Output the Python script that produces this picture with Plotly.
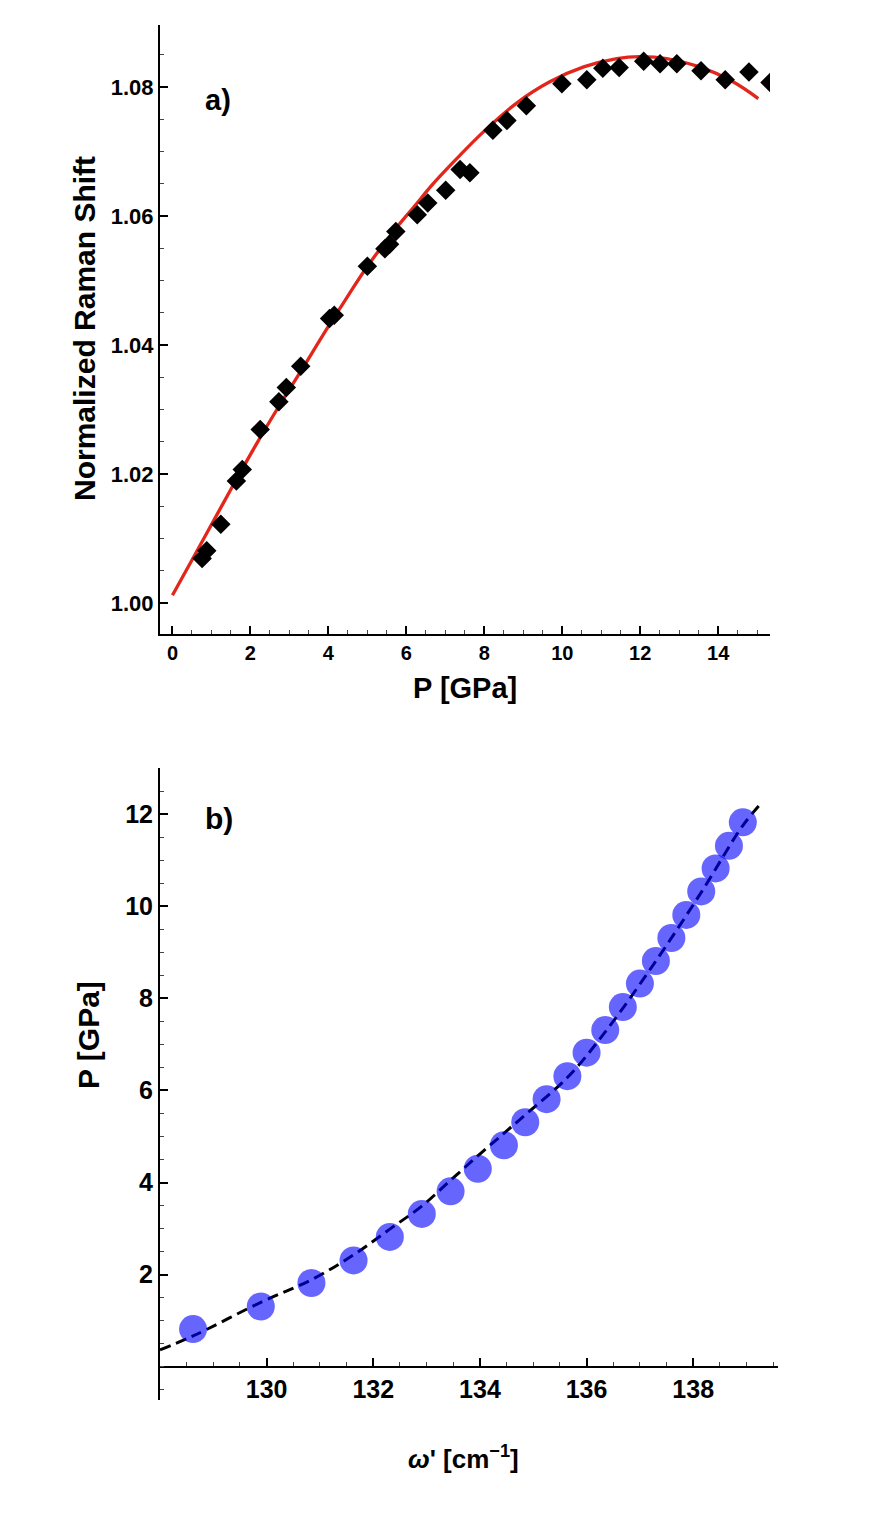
import plotly.graph_objects as go

W, H = 873, 1518
OFF = 8  # page body margin

# panel a) measured points
p_meas = [0.76, 0.88, 1.24, 1.64, 1.79, 2.25, 2.73, 2.92, 3.29, 4.03, 4.15, 5.00, 5.45, 5.57,
          5.73, 6.28, 6.55, 7.01, 7.38, 7.63, 8.22, 8.58, 9.08, 9.99, 10.63, 11.04, 11.46,
          12.09, 12.51, 12.94, 13.56, 14.18, 14.79, 15.33]
shift_meas = [1.0069, 1.0081, 1.0122, 1.0189, 1.0207, 1.0269, 1.0312, 1.0334, 1.0367, 1.0441,
              1.0446, 1.0522, 1.0549, 1.0556, 1.0576, 1.0602, 1.0620, 1.0640, 1.0672, 1.0667,
              1.0733, 1.0748, 1.0771, 1.0805, 1.0811, 1.0829, 1.0830, 1.0840, 1.0836, 1.0836,
              1.0825, 1.0811, 1.0823, 1.0807]

# panel a) fit curve (read off the picture)
p_fit = [0, 0.54, 1.05, 1.56, 2.16, 2.68, 3.27, 3.96, 4.47, 4.98, 5.67, 6.18, 6.69, 7.12,
         7.97, 8.83, 9.68, 10.55, 11.40, 11.99, 12.68, 13.53, 14.38, 15.03]
shift_fit = [1.0012, 1.0071, 1.0127, 1.0183, 1.0247, 1.0300, 1.0357, 1.0425, 1.0473, 1.0520,
             1.0576, 1.0613, 1.0650, 1.0678, 1.0730, 1.0775, 1.0808, 1.0831, 1.0844, 1.0847,
             1.0844, 1.0831, 1.0808, 1.0782]

# panel b) points
omega_pts = [128.62, 129.89, 130.84, 131.63, 132.31, 132.91, 133.45, 133.96, 134.45, 134.85,
             135.25, 135.64, 136.00, 136.35, 136.68, 137.00, 137.30, 137.59, 137.87, 138.15,
             138.42, 138.67, 138.93]
p_pts = [0.82, 1.31, 1.82, 2.31, 2.82, 3.32, 3.81, 4.30, 4.81, 5.31, 5.81, 6.31, 6.82, 7.31,
         7.81, 8.32, 8.81, 9.31, 9.81, 10.32, 10.82, 11.31, 11.82]

# panel b) dashed fit
omega_fit = [128.0, 128.62, 129.89, 130.84, 131.63, 132.31, 132.91, 133.45, 133.96, 134.45,
             134.85, 135.64, 136.35, 137.30, 138.15, 138.93, 139.30]
p_fit_b = [0.37, 0.67, 1.40, 1.89, 2.43, 2.99, 3.49, 4.05, 4.58, 5.07, 5.47, 6.28, 7.27,
           8.81, 10.30, 11.75, 12.27]

FONT = "Liberation Sans"


def fx(p):
    return (p - OFF) / W


def fy(p):
    return 1 - (p - OFF) / H


fig = go.Figure()

fig.add_trace(go.Scatter(x=p_fit, y=shift_fit, mode="lines",
                         line=dict(color="#e3261b", width=3.3, shape="spline"),
                         xaxis="x", yaxis="y"))
fig.add_trace(go.Scatter(x=p_meas, y=shift_meas, mode="markers",
                         marker=dict(symbol="diamond", size=15, color="black"),
                         xaxis="x", yaxis="y"))

fig.add_trace(go.Scatter(x=omega_fit, y=p_fit_b, mode="lines",
                         line=dict(color="black", width=3, dash="11px,6px", shape="spline"),
                         xaxis="x2", yaxis="y2"))
fig.add_trace(go.Scatter(x=omega_pts, y=p_pts, mode="markers",
                         marker=dict(symbol="circle", size=28, color="rgba(0,0,255,0.6)", line=dict(width=0)),
                         xaxis="x2", yaxis="y2"))


def axis_style(size):
    return dict(showgrid=False, zeroline=False, showline=True, linecolor="black", linewidth=2,
                ticks="inside", ticklen=8, tickwidth=1.5, tickcolor="black",
                tickfont=dict(family=FONT, size=size, color="black", weight="bold"),
                automargin=False)


minor_style = dict(ticks="inside", ticklen=4, tickwidth=1, tickcolor="#444")

fig.update_layout(
    width=W, height=H,
    margin=dict(t=0, b=0, l=0, r=0),
    paper_bgcolor="white", plot_bgcolor="white",
    showlegend=False,
    xaxis=dict(axis_style(20), domain=[fx(160), fx(770)], range=[-0.32, 15.33], anchor="y",
               dtick=2, tick0=0, minor=dict(minor_style, dtick=0.5, tick0=0)),
    yaxis=dict(axis_style(22), domain=[fy(634), fy(25)], range=[0.9952, 1.0896], anchor="x",
               dtick=0.02, tick0=1.0, tickformat=".2f",
               minor=dict(minor_style, dtick=0.005, tick0=1.0)),
    xaxis2=dict(axis_style(25), domain=[fx(160), fx(778)], range=[128, 139.59], anchor="free",
                position=fy(1367), tickvals=[130, 132, 134, 136, 138],
                minor=dict(minor_style, dtick=0.5, tick0=128)),
    yaxis2=dict(axis_style(25), domain=[fy(1400), fy(768)], range=[-0.72, 13.0], anchor="x2",
                tickvals=[2, 4, 6, 8, 10, 12],
                minor=dict(minor_style, dtick=0.5, tick0=0)),
)

labels = [
    ("Normalized Raman Shift", 84, 329, -90, 30),
    ("P [GPa]", 465, 688, 0, 29),
    ("a)", 218, 100, 0, 29),
    ("b)", 219, 818, 0, 30),
    ("P [GPa]", 88, 1035, -90, 30),
    ("<i>ω</i>' [cm<sup>−1</sup>]", 463, 1457, 0, 26),
]
for text, x, y, ang, size in labels:
    fig.add_annotation(text=text, x=fx(x), y=fy(y), xref="paper", yref="paper", showarrow=False,
                       textangle=ang, xanchor="center", yanchor="middle",
                       font=dict(family=FONT, size=size, color="black", weight="bold"))

fig.write_html("out.html")
